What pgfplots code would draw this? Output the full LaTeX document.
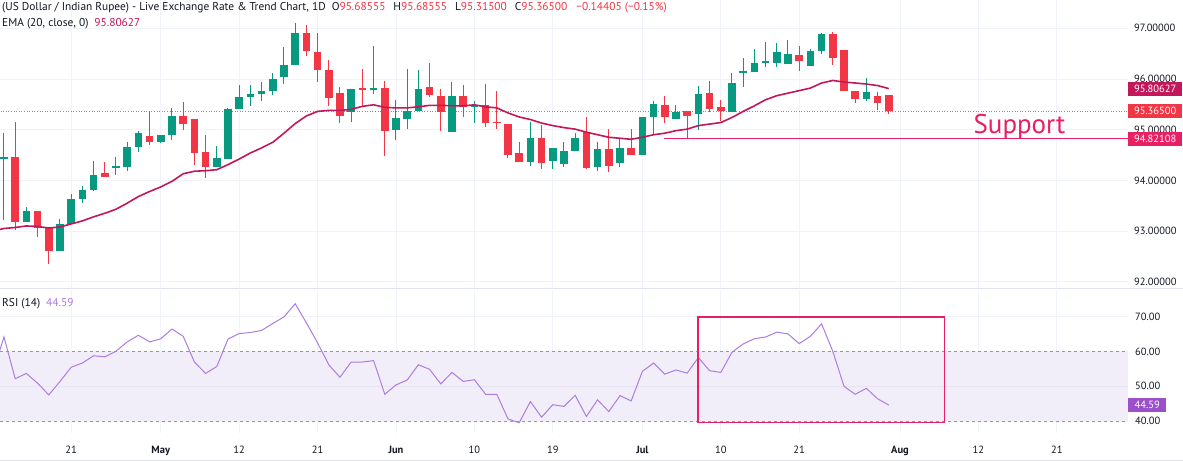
\documentclass[border=0pt]{standalone}
\usepackage{pgfplots}
\pgfplotsset{compat=1.18}
\usepackage{pgfplotstable}
\usepackage{fontspec}
\setmainfont{PT Sans}
\definecolor{up}{HTML}{089981}
\definecolor{dn}{HTML}{F23645}
\definecolor{ema}{HTML}{C2185B}
\definecolor{sup}{HTML}{E91E63}
\definecolor{rsi}{HTML}{AB7DE0}
\definecolor{rsiband}{HTML}{F2EEF9}
\definecolor{gridc}{HTML}{F0F3FA}
\definecolor{txt}{HTML}{131722}
\definecolor{sep}{HTML}{E0E3EB}
\definecolor{rsitag}{HTML}{9C4FCB}
\definecolor{dashc}{HTML}{9598A1}

% green candles: index, open, high, low, close
\pgfplotstableread{
i o h l c
0 94.42 94.93 93.22 94.47
2 93.17 93.47 93.17 93.40
5 92.60 93.24 92.60 93.14
6 93.13 93.73 93.13 93.63
7 93.63 93.89 93.55 93.80
8 93.80 94.38 93.80 94.10
10 94.24 94.47 94.10 94.29
11 94.27 94.75 94.18 94.65
12 94.65 94.98 94.57 94.93
14 94.75 94.90 94.73 94.90
15 94.90 95.42 94.79 95.27
19 94.26 94.68 94.26 94.45
20 94.42 95.43 94.42 95.41
21 95.41 95.89 95.41 95.65
22 95.65 95.89 95.47 95.70
23 95.70 95.95 95.56 95.76
24 95.76 96.12 95.68 96.00
25 96.03 96.63 95.91 96.28
26 96.27 97.10 96.27 96.90
31 95.34 95.80 95.16 95.80
33 95.78 96.65 95.70 95.82
35 95.00 95.59 94.80 95.23
36 95.21 96.20 95.01 95.37
37 95.37 96.18 95.37 95.81
40 94.95 95.95 94.95 95.66
42 95.44 95.57 95.14 95.48
47 94.37 95.16 94.29 94.83
49 94.38 94.64 94.22 94.64
50 94.33 94.75 94.27 94.58
51 94.58 94.93 94.58 94.83
53 94.26 94.75 94.19 94.62
55 94.35 94.83 94.27 94.64
57 94.50 95.25 94.50 95.25
58 95.25 95.56 94.90 95.51
60 95.21 95.49 95.21 95.34
62 95.31 95.87 95.00 95.71
65 95.34 96.11 95.34 95.92
66 96.13 96.41 95.85 96.15
67 96.13 96.59 96.13 96.31
68 96.31 96.73 96.24 96.36
69 96.31 96.71 96.23 96.53
70 96.29 96.77 96.29 96.50
72 96.25 96.59 96.25 96.56
73 96.56 96.90 96.49 96.89
77 95.60 96.02 95.57 95.75
}\gtbl

% red candles
\pgfplotstableread{
i o h l c
1 94.47 95.15 93.03 93.17
3 93.40 93.40 92.89 93.06
4 93.06 93.08 92.35 92.60
9 94.14 94.37 94.06 94.06
13 94.88 95.36 94.70 94.75
16 95.27 95.54 94.99 95.12
17 95.21 95.21 94.30 94.55
18 94.56 94.90 94.04 94.26
27 96.90 97.06 96.46 96.56
28 96.54 96.90 95.95 96.17
29 96.17 96.38 95.46 95.63
30 95.72 95.85 95.13 95.28
32 95.81 96.20 95.47 95.79
34 95.82 95.97 94.49 94.98
38 95.85 96.31 95.64 95.69
39 95.66 95.81 94.97 95.34
41 95.66 95.88 95.26 95.44
43 95.49 95.90 95.06 95.13
44 95.16 95.77 95.01 95.13
45 95.12 95.12 94.45 94.50
46 94.54 94.75 94.37 94.37
48 94.83 95.09 94.22 94.35
52 94.96 95.26 94.22 94.24
54 94.62 95.02 94.16 94.29
56 94.64 95.02 94.50 94.50
59 95.48 95.67 95.13 95.24
61 95.36 95.36 94.81 95.26
63 95.72 95.96 95.35 95.41
64 95.44 95.59 95.17 95.37
71 96.48 96.65 96.15 96.35
74 96.89 96.92 96.28 96.41
75 96.57 96.57 95.77 95.77
76 95.77 95.77 95.52 95.60
78 95.66 95.75 95.39 95.52
79 95.68555 95.68555 95.315 95.365
}\rtbl

\pgfplotstableread{
i ema
-1 93.00
0 93.05
1 93.07
2 93.10
3 93.09
4 93.06
5 93.08
6 93.14
7 93.20
8 93.28
9 93.35
10 93.43
11 93.55
12 93.68
13 93.78
14 93.87
15 93.98
16 94.13
17 94.18
18 94.19
19 94.21
20 94.31
21 94.42
22 94.54
23 94.64
24 94.75
25 94.93
26 95.12
27 95.27
28 95.36
29 95.38
30 95.38
31 95.40
32 95.46
33 95.49
34 95.44
35 95.43
36 95.43
37 95.45
38 95.48
39 95.48
40 95.47
41 95.47
42 95.49
43 95.45
44 95.43
45 95.33
46 95.25
47 95.20
48 95.13
49 95.08
50 95.04
51 95.01
52 94.95
53 94.90
54 94.85
55 94.83
56 94.81
57 94.85
58 94.90
59 94.93
60 94.98
61 95.01
62 95.08
63 95.11
64 95.14
65 95.24
66 95.36
67 95.47
68 95.59
69 95.67
70 95.72
71 95.77
72 95.82
73 95.92
74 95.97
75 95.94
76 95.92
77 95.90
78 95.87
79 95.81
}\ematbl

\pgfplotstableread{
i rsi
-1 54.0
0 64.2
1 52.2
2 53.7
3 50.9
4 47.5
5 51.4
6 55.5
7 56.7
8 58.8
9 58.5
10 60.1
11 62.8
12 64.7
13 62.8
14 63.7
15 66.5
16 64.4
17 57.0
18 53.7
19 55.7
20 63.6
21 65.2
22 65.5
23 66.1
24 68.1
25 70.0
26 73.8
27 68.3
28 62.5
29 56.2
30 52.6
31 57.0
32 57.0
33 57.4
34 47.7
35 50.4
36 51.8
37 56.2
38 54.9
39 50.7
40 54.0
41 51.4
42 51.9
43 47.7
44 47.7
45 40.6
46 39.5
47 45.6
48 41.1
49 44.7
50 44.2
51 47.4
52 41.3
53 46.1
54 42.7
55 47.3
56 45.8
57 54.3
58 56.7
59 53.5
60 54.7
61 53.8
62 58.3
63 54.5
64 54.0
65 59.8
66 62.2
67 63.7
68 64.2
69 65.6
70 65.1
71 62.3
72 64.4
73 68.0
74 60.1
75 50.0
76 47.7
77 49.4
78 46.4
79 44.59
}\rsitbl

\pgfplotsset{
  chart/.style={scale only axis, width=1128pt, anchor=north west,
    xmin=-0.357, xmax=100.36,
    axis line style={draw=none}, major tick length=0pt,
    xtick={6,14,21,28,35,42,49,57,64,71,80,87,94},
    grid=major, major grid style={gridc, line width=0.8pt},
    yticklabel pos=right,
    ticklabel style={font=\fontsize{10.5}{12}\selectfont, text=txt},
    clip mode=individual},
  wick/.style={draw=none, mark=none, forget plot,
    error bars/.cd, y dir=both, y explicit, error mark=none,
    error bar style={draw=#1, line width=1pt, solid}},
  body/.style={draw=none, mark=none, forget plot,
    error bars/.cd, y dir=both, y explicit, error mark=none,
    error bar style={draw=#1, line width=7.6pt, solid}},
}

\begin{document}
\begin{tikzpicture}[x=1pt,y=1pt]
\fill[white] (0,0) rectangle (1183,461);

% ---------------- price panel ----------------
\begin{axis}[chart, at={(0pt,461pt)}, height=288pt,
  ymin=91.876, ymax=97.558,
  ytick={92,93,94,95,96,97},
  yticklabels={92.00000,93.00000,94.00000,95.00000,96.00000,97.00000},
  yticklabel style={anchor=west, inner sep=0pt, xshift=6pt},
  xticklabels={}]
\addplot[dn!80, line width=0.7pt, dash pattern=on 1pt off 1.6pt] coordinates {(-1,95.365) (101,95.365)};
\addplot[wick=up] table[x=i, y expr={(\thisrow{h}+\thisrow{l})/2}, y error expr={(\thisrow{h}-\thisrow{l})/2}]{\gtbl};
\addplot[wick=dn] table[x=i, y expr={(\thisrow{h}+\thisrow{l})/2}, y error expr={(\thisrow{h}-\thisrow{l})/2}]{\rtbl};
\addplot[body=up] table[x=i, y expr={(\thisrow{o}+\thisrow{c})/2}, y error expr={max(abs(\thisrow{o}-\thisrow{c})/2,0.012)}]{\gtbl};
\addplot[body=dn] table[x=i, y expr={(\thisrow{o}+\thisrow{c})/2}, y error expr={max(abs(\thisrow{o}-\thisrow{c})/2,0.012)}]{\rtbl};
\addplot[ema, line width=1.6pt] table[x=i, y=ema]{\ematbl};
\addplot[sup, line width=1.4pt] coordinates {(58.9,94.82108) (100.36,94.82108)};
\node[anchor=base, text=sup, inner sep=0pt, font=\fontsize{27}{30}\selectfont] at (axis cs:90.67,94.932) {Support};
\node[fill=ema, text=white, anchor=west, inner sep=0pt, minimum width=54pt, minimum height=13.6pt, font=\fontsize{10.5}{12}\selectfont] at (axis cs:100.36,95.80627) {95.80627};
\node[fill=dn, text=white, anchor=west, inner sep=0pt, minimum width=54pt, minimum height=13.6pt, font=\fontsize{10.5}{12}\selectfont] at (axis cs:100.36,95.365) {95.36500};
\node[fill=sup, text=white, anchor=west, inner sep=0pt, minimum width=54pt, minimum height=13.6pt, font=\fontsize{10.5}{12}\selectfont] at (axis cs:100.36,94.82108) {94.82108};
\end{axis}

% ---------------- RSI panel ----------------
\begin{axis}[chart, at={(0pt,171pt)}, height=143pt,
  ymin=36.54, ymax=77.75,
  ytick={40,50,60,70},
  yticklabels={40.00,50.00,60.00,70.00},
  yticklabel style={anchor=west, inner sep=0pt, xshift=7pt},
  xticklabels={21,\textbf{May},12,21,\textbf{Jun},10,19,\textbf{Jul},10,21,\textbf{Aug},12,21},
  xticklabel style={anchor=base, inner sep=0pt, yshift=-20pt}]
\fill[rsiband] (axis cs:-0.357,40) rectangle (axis cs:100.36,60);
\draw[color={rgb,255:red,232;green,228;blue,243}, line width=0.8pt] (axis cs:-0.357,50) -- (axis cs:100.36,50);
\draw[dashc, line width=0.8pt, dash pattern=on 3pt off 3pt] (axis cs:-0.357,60) -- (axis cs:100.36,60);
\draw[dashc, line width=0.8pt, dash pattern=on 3pt off 3pt] (axis cs:-0.357,40) -- (axis cs:100.36,40);
\addplot[rsi, line width=1pt] table[x=i, y=rsi]{\rsitbl};
\draw[sup, line width=1.6pt] (axis cs:61.96,70) rectangle (axis cs:83.98,39.6);
\node[fill=rsitag, text=white, anchor=west, inner sep=0pt, minimum width=38pt, minimum height=14.4pt, font=\fontsize{10.5}{12}\selectfont] at (axis cs:100.36,44.59) {44.59};
\end{axis}

% separators
\draw[sep, line width=1pt] (0,172.5) -- (1183,172.5);
\draw[sep, line width=1pt] (0,0.5) -- (1183,0.5);

% legends
\node[anchor=base west, inner sep=0pt, text=txt, font=\fontsize{11.4}{13}\selectfont] at (2,450.1)
 {(US Dollar / Indian Rupee) - Live Exchange Rate \& Trend Chart, 1D\hspace{6pt}O\textcolor{dn}{95.68555}\hspace{8pt}H\textcolor{dn}{95.68555}\hspace{8pt}L\textcolor{dn}{95.31500}\hspace{8pt}C\textcolor{dn}{95.36500}\hspace{9pt}\textcolor{dn}{−0.14405\hspace{3pt}(−0.15\%)}};
\node[anchor=base west, inner sep=0pt, text=txt, font=\fontsize{11.4}{13}\selectfont] at (2,434.9)
 {EMA (20, close, 0)\hspace{6pt}\textcolor{ema}{95.80627}};
\node[anchor=base west, inner sep=0pt, text=txt, font=\fontsize{11.4}{13}\selectfont] at (2,154.3)
 {RSI (14)\hspace{6pt}\textcolor{rsi}{44.59}};

\pgfresetboundingbox
\useasboundingbox (0,0) rectangle (1183,461);
\end{tikzpicture}
\end{document}
